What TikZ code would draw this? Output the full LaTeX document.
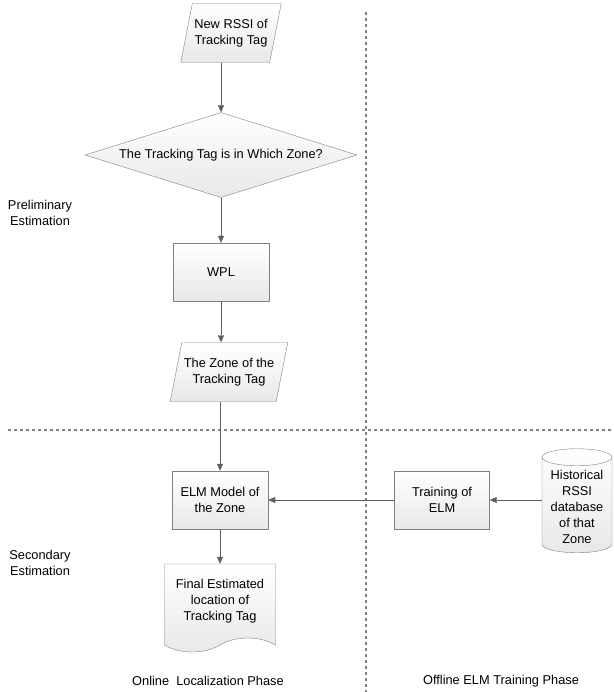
\documentclass[tikz,border=0pt]{standalone}
\usepackage{fontspec}
\setmainfont{Liberation Sans}
\usetikzlibrary{shapes.geometric, shapes.symbols, arrows.meta, positioning}
\definecolor{edgegray}{RGB}{128,128,128}
\definecolor{arrgray}{RGB}{95,95,95}
\definecolor{shadegray}{RGB}{232,232,232}

\begin{document}
\begin{tikzpicture}[x=1pt, y=-1pt,
  base/.style={draw=edgegray, top color=white, bottom color=shadegray, align=center, inner sep=2pt, font=\fontsize{12.8}{16}\selectfont},
  procbox/.style={base, rectangle, minimum width=96pt, minimum height=58pt},
  iobox/.style={base, trapezium, trapezium left angle=70, trapezium right angle=110, trapezium stretches body, minimum height=59pt},
  askbox/.style={base, diamond, aspect=3.2, inner sep=1pt, minimum width=272pt, minimum height=85pt},
  dbbox/.style={base, cylinder, shape border rotate=90, aspect=0.3, minimum width=70pt, minimum height=104pt},
  docbox/.style={base, tape, tape bend top=none, tape bend bottom=in and out, tape bend height=14pt, minimum width=111pt, minimum height=88pt},
  note/.style={align=center, font=\fontsize{12.8}{16}\selectfont},
  arr/.style={draw=arrgray, -{Triangle[length=7pt, width=6pt]}},
  sep/.style={draw=edgegray, line width=1.4pt, dash pattern=on 3pt off 3pt}
]
  \useasboundingbox (0,0) rectangle (613,692);

  \draw[sep] (8,430) -- (613,430);
  \draw[sep] (366,12) -- (366,692);

  \node[iobox, minimum width=84pt] (rssi) at (231,33) {New RSSI of\\Tracking Tag};
  \node[askbox] (zoneq) at (221,155) {The Tracking Tag is in Which Zone?};
  \node[procbox] (wpl) at (221,272) {WPL};
  \node[iobox, minimum width=96pt] (zone) at (229,372) {The Zone of the\\Tracking Tag};
  \node[procbox] (elm) at (220,500) {ELM Model of\\the Zone};
  \node[procbox, minimum width=95pt] (train) at (442,500) {Training of\\ELM};
  \node[dbbox] (hist) at (577,506.5) {Historical\\RSSI\\database\\of that\\Zone};
  \node[docbox] (final) at (220,601) {Final Estimated\\location of\\Tracking Tag};

  \node[note] (prelim) at (40,213) {Preliminary\\Estimation};
  \node[note] (second) at (40,563) {Secondary\\Estimation};
  \node[note] (online) at (208,681) {Online\ \ Localization Phase};
  \node[note] (offline) at (501,681) {Offline ELM Training Phase};

  \draw[arr] (zoneq.north |- rssi.bottom side) -- (zoneq.north);
  \draw[arr] (zoneq.south) -- (wpl.north);
  \draw[arr] (wpl.south) -- (wpl.south |- zone.top side);
  \draw[arr] (elm.north |- zone.bottom side) -- (elm.north);
  \draw[arr] (elm.south) -- (final.north);
  \draw[arr] (train.west) -- (elm.east);
  \draw[arr] (train.east -| hist.west) -- (train.east);
\end{tikzpicture}
\end{document}
